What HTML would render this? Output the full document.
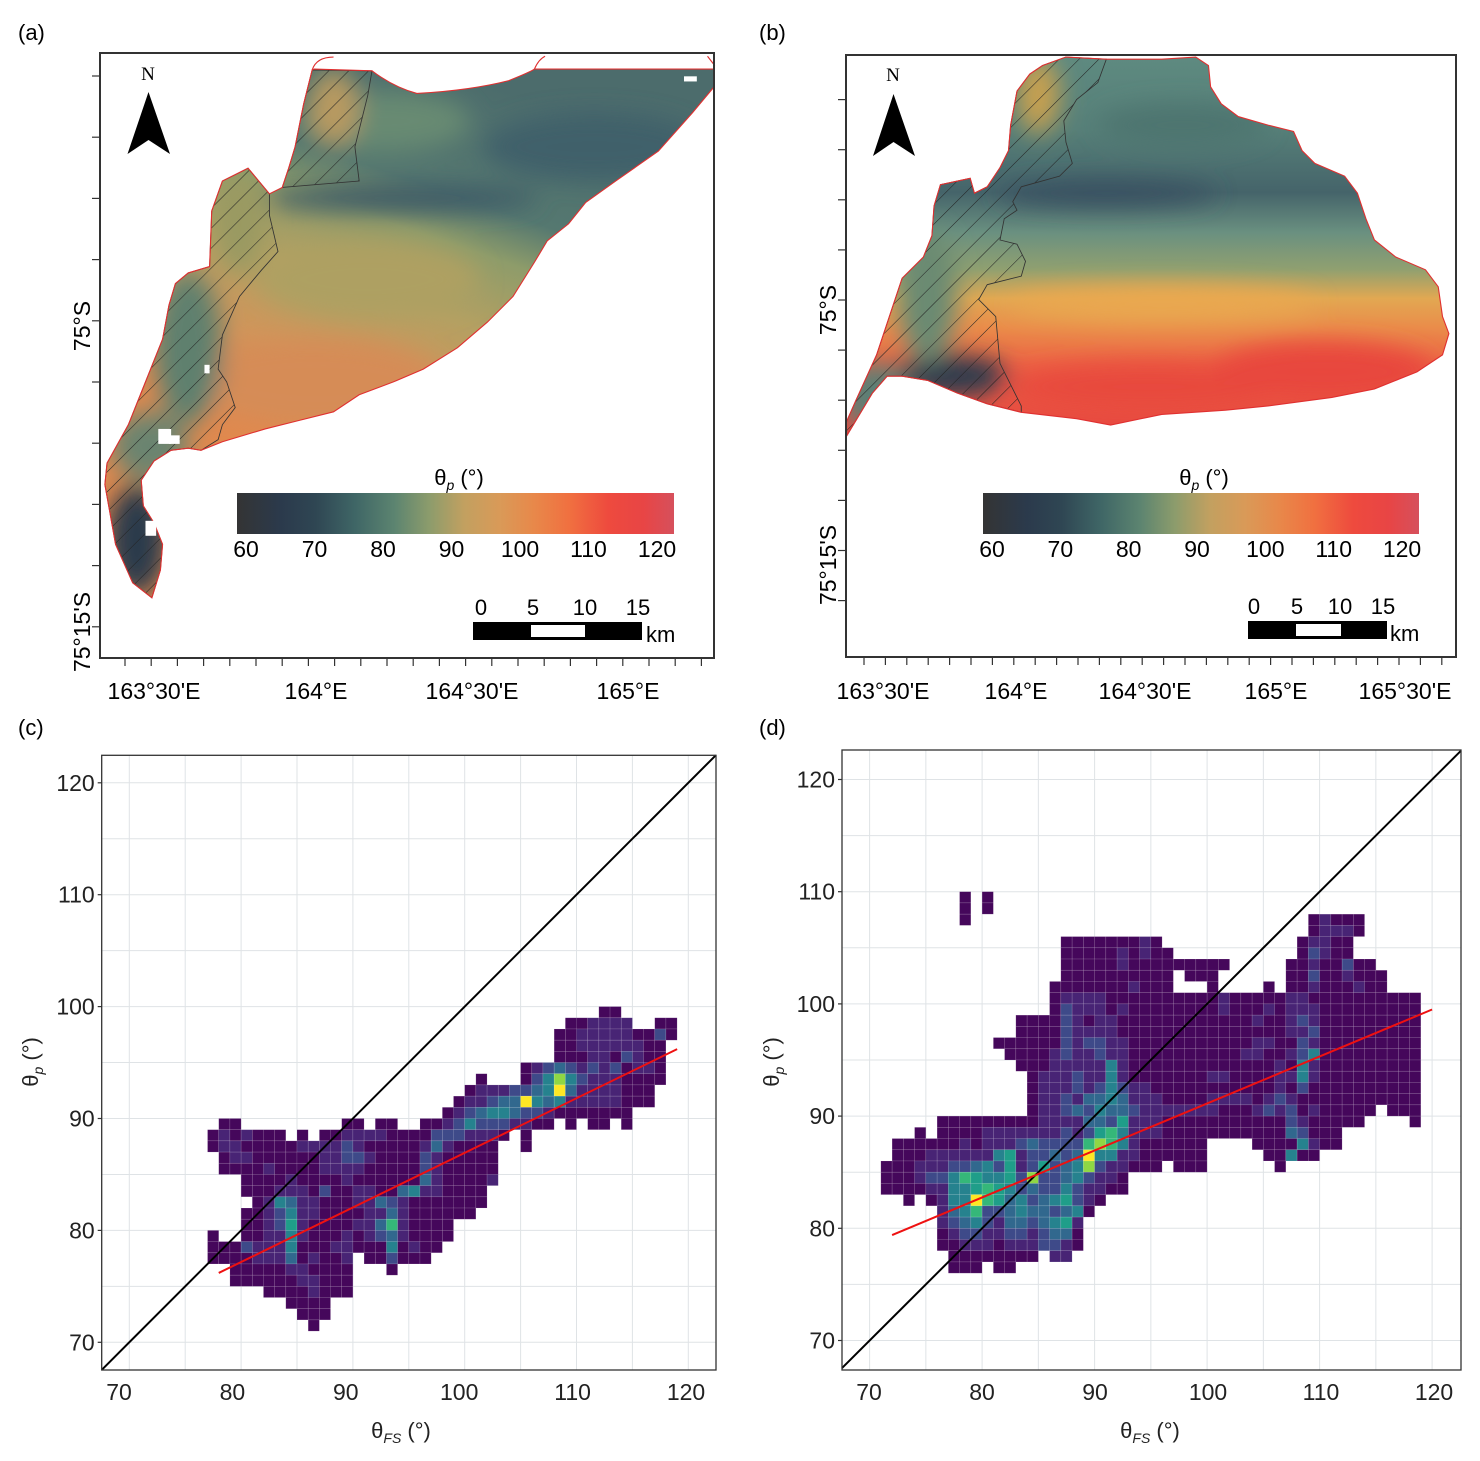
<!DOCTYPE html>
<html><head><meta charset="utf-8"><style>
html,body{margin:0;padding:0;background:#fff;}
svg{display:block;font-family:"Liberation Sans",Arial,sans-serif;}
</style></head><body>
<svg id="fig" width="1480" height="1461" viewBox="0 0 1480 1461" xmlns="http://www.w3.org/2000/svg">
<defs>
<linearGradient id="cbar" x1="0" y1="0" x2="1" y2="0">
<stop offset="0" stop-color="#343434"/><stop offset="0.1" stop-color="#2b3a4c"/><stop offset="0.18" stop-color="#2f4653"/>
<stop offset="0.27" stop-color="#3f6666"/><stop offset="0.36" stop-color="#5c8470"/><stop offset="0.44" stop-color="#8c9c6c"/>
<stop offset="0.52" stop-color="#c2a060"/><stop offset="0.6" stop-color="#d99a58"/><stop offset="0.68" stop-color="#e8884a"/>
<stop offset="0.76" stop-color="#f07040"/><stop offset="0.85" stop-color="#ee4a3e"/><stop offset="0.93" stop-color="#e84545"/><stop offset="1" stop-color="#d6505c"/>
</linearGradient>
<linearGradient id="gradA" gradientUnits="userSpaceOnUse" x1="950" y1="80" x2="650" y2="950">
<stop offset="0" stop-color="#4c6c6c"/><stop offset="0.3" stop-color="#557870"/><stop offset="0.42" stop-color="#8e9c6a"/>
<stop offset="0.6" stop-color="#b4a062"/><stop offset="0.8" stop-color="#d0955a"/><stop offset="1" stop-color="#e0894e"/>
</linearGradient>
<linearGradient id="gradB" gradientUnits="userSpaceOnUse" x1="0" y1="40" x2="0" y2="900">
<stop offset="0" stop-color="#5e8a80"/><stop offset="0.2" stop-color="#567f78"/><stop offset="0.37" stop-color="#45646a"/>
<stop offset="0.48" stop-color="#6a9080"/><stop offset="0.58" stop-color="#90a070"/><stop offset="0.66" stop-color="#e2a852"/>
<stop offset="0.74" stop-color="#ea8c4a"/><stop offset="0.84" stop-color="#ec6444"/><stop offset="1" stop-color="#e84a40"/>
</linearGradient>
<pattern id="hatch" patternUnits="userSpaceOnUse" width="33" height="33" patternTransform="rotate(45)">
<line x1="0" y1="0" x2="0" y2="33" stroke="#222" stroke-width="2.4"/>
</pattern>
<filter id="blur" x="-50%" y="-50%" width="200%" height="200%"><feGaussianBlur stdDeviation="28"/></filter>
<clipPath id="clipA"><path id="outA" d="M595,68 L730,72 Q780,110 835,125 Q960,118 1050,95 Q1100,75 1110,68 L1530,68 L1530,110 L1480,170 L1400,260 L1300,330 L1230,380 L1190,430 L1140,470 L1110,520 L1060,600 L1000,660 L930,720 L850,770 L780,800 L700,830 L640,870 L560,890 L480,910 L380,940 L330,960 L300,955 L260,960 L220,985 L190,1030 L195,1090 L220,1130 L240,1180 L235,1240 L215,1305 L170,1270 L130,1180 L105,1040 L110,990 L160,900 L200,800 L240,700 L255,620 L270,570 L300,545 L350,530 L355,400 L380,330 L440,300 L490,360 L520,345 L535,300 L550,250 L570,150 L590,70 Z"/></clipPath>
<clipPath id="clipB"><path id="outB" d="M625,40 L720,45 L850,45 L930,40 L960,60 L965,110 L990,150 L1030,180 L1100,200 L1160,215 L1180,260 L1210,290 L1280,320 L1310,360 L1330,420 L1350,470 L1400,510 L1470,540 L1500,580 L1510,650 L1525,690 L1510,740 L1450,780 L1350,820 L1250,840 L1100,860 L1000,870 L850,880 L730,905 L650,890 L520,875 L440,855 L370,830 L300,800 L240,790 L205,790 L170,830 L140,880 L110,930 L108,900 L130,850 L180,740 L220,620 L240,560 L290,510 L310,460 L315,390 L330,340 L400,325 L410,360 L440,345 L470,300 L490,260 L495,200 L510,120 L540,80 L570,60 Z"/></clipPath>
</defs>
<rect width="1480" height="1461" fill="#fff"/>

<text x="18" y="40" font-size="22">(a)</text>
<text x="759" y="40" font-size="22">(b)</text>
<text x="18" y="735" font-size="22">(c)</text>
<text x="759" y="735" font-size="22">(d)</text>

<!-- MAP A -->
<g>
<g transform="translate(60,40) scale(0.4274)">
<g clip-path="url(#clipA)">
<rect x="0" y="0" width="1600" height="1400" fill="url(#gradA)"/>
<g filter="url(#blur)">
<ellipse cx="1250" cy="250" rx="260" ry="80" fill="#41606a"/>
<ellipse cx="800" cy="370" rx="320" ry="32" fill="#3d5a66"/>
<ellipse cx="760" cy="190" rx="200" ry="70" fill="#688a72"/>
<ellipse cx="720" cy="560" rx="260" ry="90" fill="#aea062"/>
<ellipse cx="600" cy="800" rx="300" ry="100" fill="#d68c56"/>
<ellipse cx="420" cy="430" rx="60" ry="120" fill="#9a9a62"/>
<ellipse cx="300" cy="720" rx="80" ry="180" fill="#5e806e"/>
<ellipse cx="210" cy="950" rx="90" ry="80" fill="#6a8470"/>
<ellipse cx="180" cy="1170" rx="70" ry="130" fill="#2c3a4c"/>
<ellipse cx="640" cy="160" rx="60" ry="90" fill="#b89a60"/>
</g>
</g>
<path d="M440,300 L490,360 L490,410 L510,495 L470,540 L420,600 L380,690 L370,770 L390,800 L410,860 L380,900 L370,935 L330,960 L300,955 L260,960 L220,985 L190,1030 L195,1090 L220,1130 L240,1180 L235,1240 L215,1305 L170,1270 L130,1180 L105,1040 L110,990 L160,900 L200,800 L240,700 L255,620 L270,570 L300,545 L350,530 L355,400 L380,330 Z" fill="url(#hatch)" stroke="#333" stroke-width="2"/>
<path d="M590,70 L730,72 L720,130 L690,250 L700,330 L520,345 L535,300 L550,250 L570,150 Z" fill="url(#hatch)" stroke="#333" stroke-width="2"/>
<use href="#outA" fill="none" stroke="#e03030" stroke-width="2.6"/>
<path d="M590,70 Q600,40 640,40 M1110,68 Q1120,45 1135,38 M1515,38 L1532,60" fill="none" stroke="#e03030" stroke-width="2.6"/>
<g fill="#fff"><rect x="230" y="910" width="30" height="35"/><rect x="255" y="925" width="25" height="20"/><rect x="200" y="1125" width="25" height="35"/><rect x="338" y="760" width="12" height="20"/><rect x="1460" y="85" width="30" height="12"/></g>
</g>
<rect x="100" y="53" width="614" height="605" fill="none" stroke="#333" stroke-width="2"/>
<text x="148" y="80" font-size="19" text-anchor="middle" font-family="Liberation Serif,serif">N</text>
<path d="M148.5,92 L127.5,154 L148.5,140 L170,154 Z" fill="#000"/>
<text x="459" y="485" font-size="22" text-anchor="middle">θ<tspan font-size="14" font-style="italic" dy="5">p</tspan><tspan dy="-5"> (°)</tspan></text>
<rect x="237" y="493" width="437" height="41" fill="url(#cbar)"/>
<g id="cbLabA" font-size="23" text-anchor="middle"></g>
<g>
<rect x="473" y="622" width="169" height="18" fill="#000"/><rect x="531" y="625" width="54" height="12" fill="#fff"/>
<g font-size="22" text-anchor="middle"><text x="481" y="615">0</text><text x="533" y="615">5</text><text x="585" y="615">10</text><text x="638" y="615">15</text></g>
<text x="646" y="642" font-size="22">km</text>
</g>
<g id="ticksA" stroke="#333" stroke-width="1.2"></g>
<text transform="translate(90,326) rotate(-90)" font-size="23" text-anchor="middle">75°S</text>
<text transform="translate(90,632) rotate(-90)" font-size="23" text-anchor="middle">75°15'S</text>
<g font-size="23" text-anchor="middle">
<text x="154" y="699">163°30'E</text><text x="316" y="699">164°E</text><text x="472" y="699">164°30'E</text><text x="628" y="699">165°E</text></g>
</g>

<!-- MAP B -->
<g>
<g transform="translate(800,40) scale(0.4255)">
<g clip-path="url(#clipB)">
<rect x="0" y="0" width="1600" height="1000" fill="url(#gradB)"/>
<g filter="url(#blur)">
<ellipse cx="720" cy="360" rx="260" ry="30" fill="#385060"/>
<ellipse cx="900" cy="200" rx="200" ry="50" fill="#4d7470"/>
<ellipse cx="850" cy="620" rx="360" ry="38" fill="#eaa850"/>
<ellipse cx="820" cy="815" rx="330" ry="55" fill="#e8483e"/>
<ellipse cx="1230" cy="780" rx="260" ry="70" fill="#e8463e"/>
<ellipse cx="360" cy="790" rx="130" ry="48" fill="#2a3a4e"/>
<ellipse cx="180" cy="840" rx="80" ry="80" fill="#5a8076"/>
<ellipse cx="300" cy="600" rx="70" ry="160" fill="#6a8a72"/>
<ellipse cx="560" cy="130" rx="50" ry="90" fill="#c8a050"/>
</g>
</g>
<path d="M625,40 L720,45 L700,100 L650,140 L620,190 L625,240 L640,290 L610,320 L520,345 L500,380 L510,400 L480,420 L470,470 L510,480 L530,520 L520,555 L440,575 L420,610 L460,650 L470,760 L520,860 L520,875 L440,855 L370,830 L300,800 L240,790 L205,790 L170,830 L140,880 L110,930 L108,900 L130,850 L180,740 L220,620 L240,560 L290,510 L310,460 L315,390 L330,340 L400,325 L410,360 L440,345 L470,300 L490,260 L495,200 L510,120 L540,80 L570,60 Z" fill="url(#hatch)" stroke="#333" stroke-width="2"/>
<use href="#outB" fill="none" stroke="#e03030" stroke-width="2.6"/>
</g>
<rect x="846" y="55" width="610" height="602" fill="none" stroke="#333" stroke-width="2"/>
<text x="893" y="81" font-size="19" text-anchor="middle" font-family="Liberation Serif,serif">N</text>
<path d="M893.5,94 L873,156 L893.5,142 L915,156 Z" fill="#000"/>
<text x="1204" y="485" font-size="22" text-anchor="middle">θ<tspan font-size="14" font-style="italic" dy="5">p</tspan><tspan dy="-5"> (°)</tspan></text>
<rect x="983" y="493" width="436" height="41" fill="url(#cbar)"/>
<g id="cbLabB" font-size="23" text-anchor="middle"></g>
<g>
<rect x="1248" y="621" width="139" height="18" fill="#000"/><rect x="1296" y="624" width="45" height="12" fill="#fff"/>
<g font-size="22" text-anchor="middle"><text x="1254" y="614">0</text><text x="1297" y="614">5</text><text x="1340" y="614">10</text><text x="1383" y="614">15</text></g>
<text x="1390" y="641" font-size="22">km</text>
</g>
<g id="ticksB" stroke="#333" stroke-width="1.2"></g>
<text transform="translate(836,310) rotate(-90)" font-size="23" text-anchor="middle">75°S</text>
<text transform="translate(836,565) rotate(-90)" font-size="23" text-anchor="middle">75°15'S</text>
<g font-size="23" text-anchor="middle">
<text x="883" y="699">163°30'E</text><text x="1016" y="699">164°E</text><text x="1145" y="699">164°30'E</text><text x="1276" y="699">165°E</text><text x="1405" y="699">165°30'E</text></g>
</g>

<g id="panelC"></g>
<g id="panelD"></g>
</svg>
<script>
// ---- chart data ----
const cbTicks = [60, 70, 80, 90, 100, 110, 120];
const axisTicks = [70, 80, 90, 100, 110, 120];
const gridVals = [70, 75, 80, 85, 90, 95, 100, 105, 110, 115, 120];
// panel c: 1-degree bins; x bin start 77, rows from y=100 downward; "col:levels"
const cBinX0 = 77;
const cBinYTop = 100;
const cRows = [
"35:11","32:112222 40:11","31:11222221131","31:1122222211","31:1112213211",
"28:1234323231221","24:1 28:1358532221111","23:12223345942222111","22:122344954522222111",
"21:12345543321111111","1:11 12:11 15:11 19:112353332211 32:1 34:11 37:1",
"0:1212111 8:1 10:11222211113332221 28:1","0:12211111222232111112421111 28:1",
"1:1221111112233211113211111","1:1111211112222111113211111","3:11112111121111114211112",
"3:1112221311221145221111","4:125422111224321111111","3:112352211112242111111",
"3:1123621111224721111","0:1 3:1122521112123421111","0:111322251112211151211",
"0:1111222412112 14:113111","2:11111221111 16:1","2:11111122111","5:11112111","7:1111","8:111","9:1"
];
const cFitX = [78.0, 119.0];
const cFitY = [76.2, 96.2];
// panel d
const dBinX0 = 71;
const dBinYTop = 110;
const dRows = [
"7:1 9:1","7:1 9:1","7:1 38:12111","38:12221","16:111111121 37:12211","16:1111121211 37:13211",
"16:111112111111111 36:11211311","16:1111111111 27:111 36:113112111","15:11111112111 29:1 34:1 36:112111211",
"15:12222,11111,11111,21111,12211,11111,111","15:13222,12111,11111,21112,12221,11111,111",
"12:11113,21221,11111,11111,12112,32111,11111,1","12:11113,22221,11111,11111,11112,23111,11111,1",
"10:11111,13233,22111,11111,11122,11321,11111,111","11:11112,32232,21111,11111,12211,23511,11111,11",
"12:11122,22252,11111,11111,11121,52111,11111,1","13:12223,22521,11111,12211,11225,21111,11111",
"13:12223,23532,21111,11111,11213,11111,11111","13:12232,44542,22111,12222,12321,11111,11111",
"13:12234,35443,22222,22111,23231,21111,1 45:111","5:11111,11112,22244,36222,11111,11111,13211,111 47:1",
"3:1 5:11112,22222,23236,75222,11111,11111,14311,1","1:11111,12122,23433,33787,52111,111 33:11115211",
"1:11122,22225,62334,34955,22111,111 34:11511","0:11122,23345,36236,34583,22111 26:111 35:1",
"0:11123,35765,56383,34532,21","0:11112,25567,65343,35322,11","2:1 4:12559,76453,45632,1",
"5:24573,34544,3451","5:23453,24434,562","5:12332,23323,441","5:11222,12223,321","6:11111111 15:22","6:111 10:11"
];
const dFitX = [72.0, 120.0];
const dFitY = [79.4, 99.5];
const levelColors = ["#fff","#45075b","#482475","#3e4a89","#31688e","#26828e","#1f9e89","#35b779","#8fd744","#fde725"];

const NS = "http://www.w3.org/2000/svg";
function mk(tag, attrs, parent){const e=document.createElementNS(NS,tag);for(const k in attrs)e.setAttribute(k,attrs[k]);parent.appendChild(e);return e;}

[["cbLabA",246,657],["cbLabB",992,1402]].forEach(([id,a,b])=>{
  const g=document.getElementById(id);
  cbTicks.forEach(v=>{const t=mk("text",{x:a+(v-60)/60*(b-a),y:557},g);
    
    
    t.textContent=v;});
});
(function(){
  const ga=document.getElementById("ticksA");
  for(let i=0;i<10;i++){const y=76+i*61.2;mk("line",{x1:92,y1:y,x2:100,y2:y},ga);}
  for(let i=0;i<23;i++){const x=125+i*26.2;if(x>713)break;mk("line",{x1:x,y1:658,x2:x,y2:666},ga);}
  const gb=document.getElementById("ticksB");
  for(let i=0;i<11;i++){const y=99.6+i*50.1;mk("line",{x1:838,y1:y,x2:846,y2:y},gb);}
  for(let i=0;i<28;i++){const x=864+i*21.4;if(x>1455)break;mk("line",{x1:x,y1:657,x2:x,y2:665},gb);}
})();

function drawPanel(g, cfg){
  const {left,right,top,bottom,xs,ys,labX,rows,x0,yTop,fitX,fitY,yTitleX,xTitleX} = cfg;
  mk("rect",{x:left,y:top,width:right-left,height:bottom-top,fill:"#fff"},g);
  const grid=mk("g",{stroke:"#dfe3e6","stroke-width":1},g);
  
  
  gridVals.forEach(v=>{const x=xs(v);if(x>left&&x<right)mk("line",{x1:x,y1:top,x2:x,y2:bottom},grid);
    const y=ys(v);if(y>top&&y<bottom)mk("line",{x1:left,y1:y,x2:right,y2:y},grid);});
  const heat=mk("g",{},g);
  
  
  rows.forEach((row,j)=>{
    row.split(" ").forEach(seg=>{
      const [s,d]=seg.split(":");const digits=d.replace(/,/g,"");const st=parseInt(s);
      for(let k=0;k<digits.length;k++){const lv=parseInt(digits[k]);if(!lv)continue;
        const c=st+k;const xa=xs(x0+c), xb=xs(x0+c+1), ya=ys(yTop-j), yb=ys(yTop-j-1);
        const r=mk("rect",{x:xa,y:ya,width:xb-xa,height:yb-ya,fill:levelColors[lv],stroke:"rgba(255,255,255,0.18)","stroke-width":0.6},heat);
        
        
      }
    });
  });
  const lo=Math.max(ys.inv(bottom),xs.inv(left)), hi=Math.min(ys.inv(top),xs.inv(right));
  const l1=mk("line",{x1:xs(lo),y1:ys(lo),x2:xs(hi),y2:ys(hi),stroke:"#000","stroke-width":2},g);
  
  
  const fl=mk("line",{x1:xs(fitX[0]),y1:ys(fitY[0]),x2:xs(fitX[1]),y2:ys(fitY[1]),stroke:"#ee1111","stroke-width":2},g);
  
  
  const fr=mk("rect",{x:left,y:top,width:right-left,height:bottom-top,fill:"none",stroke:"#333","stroke-width":1.3},g);
  
  
  axisTicks.forEach(v=>{
    const tk=mk("line",{x1:left-4,y1:ys(v),x2:left,y2:ys(v),stroke:"#333","stroke-width":1.2},g);
    
    
    const ty=mk("text",{x:left-7,y:ys(v)+8,"font-size":23,"text-anchor":"end",fill:"#222"},g);
    
    
    ty.textContent=v;
    const tx=mk("text",{x:labX(v),y:1400,"font-size":23,"text-anchor":"middle",fill:"#222"},g);
    
    
    tx.textContent=v;
  });
  const yt=mk("text",{transform:`translate(${yTitleX},1062) rotate(-90)`,"font-size":22,"text-anchor":"middle",fill:"#222"},g);
  
  
  yt.innerHTML='θ<tspan font-size="14" font-style="italic" dy="5">p</tspan><tspan dy="-5"> (°)</tspan>';
  const xt=mk("text",{x:xTitleX,y:1438,"font-size":22,"text-anchor":"middle",fill:"#222"},g);
  
  
  xt.innerHTML='θ<tspan font-size="14" font-style="italic" dy="5">FS</tspan><tspan dy="-5"> (°)</tspan>';
}
function lin(p0,v0,k){const f=v=>p0+(v-v0)*k;f.inv=p=>v0+(p-p0)/k;return f;}

drawPanel(document.getElementById("panelC"),{
  left:101.7,right:716,top:755.3,bottom:1370,
  xs:lin(129.3,70,11.18), ys:lin(1342.3,70,-11.19), labX:v=>119+(v-70)*11.34,
  rows:cRows,x0:cBinX0,yTop:cBinYTop,fitX:cFitX,fitY:cFitY,yTitleX:38,xTitleX:401});
drawPanel(document.getElementById("panelD"),{
  left:842,right:1461,top:750,bottom:1370,
  xs:lin(982.1,80,11.25), ys:lin(891.7,110,-11.22), labX:v=>869+(v-70)*11.3,
  rows:dRows,x0:dBinX0,yTop:dBinYTop,fitX:dFitX,fitY:dFitY,yTitleX:779,xTitleX:1150});
</script>
</body></html>
